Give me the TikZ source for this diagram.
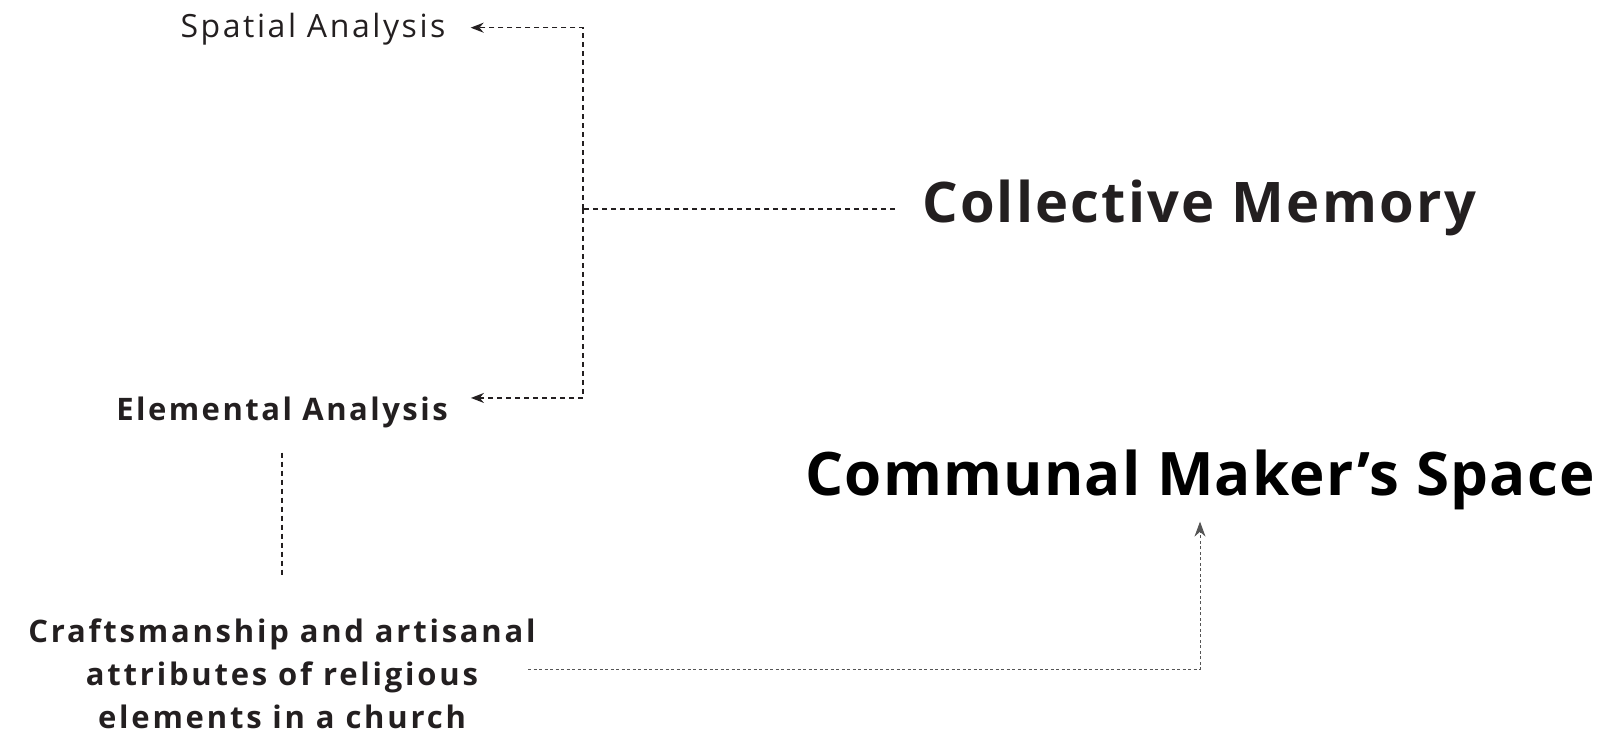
\documentclass[tikz,border=0pt]{standalone}
\usepackage{fontspec}
\setmainfont{Open Sans}
\usetikzlibrary{arrows.meta}

\definecolor{ink}{HTML}{231F20}
\definecolor{inkgrey}{HTML}{555555}

\tikzset{
  small/.style={inner sep=0pt, anchor=base, text=ink, font=\fontsize{32}{38}\selectfont\addfontfeature{LetterSpace=8}},
  smallbold/.style={small, font=\fontsize{31}{38}\selectfont\bfseries\addfontfeature{LetterSpace=8}},
  title/.style={inner sep=0pt, anchor=base, text=ink, font=\fontsize{56}{66}\selectfont\bfseries\addfontfeature{LetterSpace=4}},
  link/.style={ink, line width=1.4pt, dash pattern=on 5pt off 4pt},
  arr/.style={link, -{Stealth[length=13pt, width=10pt]}},
  finelink/.style={inkgrey, line width=1pt, dash pattern=on 3pt off 2.5pt},
}

\begin{document}
\begin{tikzpicture}[x=1pt, y=-1pt]
\useasboundingbox (0,0) rectangle (1607,743);

\node[small] (spatial) at (313,38) {Spatial Analysis};
\node[smallbold] (elem) at (282,420) {Elemental Analysis};
\node[smallbold, anchor=center, align=center, font=\fontsize{31}{43}\selectfont\bfseries\addfontfeature{LetterSpace=9}] (craft) at (282,674)
  {Craftsmanship and artisanal\\attributes of religious\\elements in a church};
\node[title, anchor=base west] (cm) at (922,223) {Collective Memory};
\node[title, text=black, font=\fontsize{60}{70}\selectfont\bfseries\addfontfeature{LetterSpace=2}] (cms) at (1200,495) {Communal Maker’s Space};

\coordinate (hub) at (583,209);
\coordinate (cstart) at (528,669);

\draw[link] ([xshift=-27pt]cm.west |- hub) -- (hub);
\draw[arr] (hub) |- ([xshift=25pt, yshift=2pt]spatial.east);
\draw[arr] (hub) |- ([xshift=23pt, yshift=14pt]elem.east);
\draw[link] ([yshift=-25pt]elem.south) -- ([yshift=41pt]craft.north);
\draw[finelink, -{Stealth[length=15pt, width=11pt]}] (cstart) -| ([yshift=-12pt]cms.south);
\end{tikzpicture}
\end{document}
